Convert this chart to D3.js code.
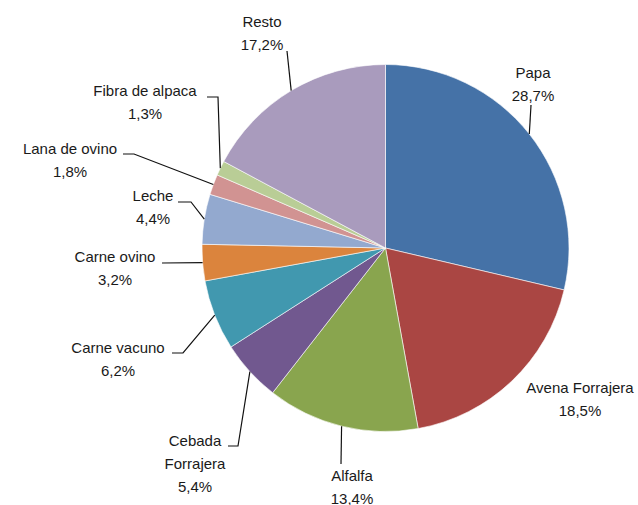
<!DOCTYPE html>
<html><head><meta charset="utf-8">
<script src="https://cdn.jsdelivr.net/npm/d3@7"></script>
<style>body{margin:0;background:#fff}svg{display:block}</style>
</head><body>
<svg id="c" width="638" height="505"></svg>
<script>
const categories = ["Papa","Avena Forrajera","Alfalfa","Cebada Forrajera","Carne vacuno","Carne ovino","Leche","Lana de ovino","Fibra de alpaca","Resto"];
const values = [28.7,18.5,13.4,5.4,6.2,3.2,4.4,1.8,1.3,17.2];
const valueLabels = ["28,7%","18,5%","13,4%","5,4%","6,2%","3,2%","4,4%","1,8%","1,3%","17,2%"];
const colors = ["#4572A7","#AA4643","#89A54E","#71588F","#4198AF","#DB843D","#93A9CF","#D19392","#B9CD96","#A99BBD"];

// label layout: text lines, center x, first line y (center), leader points before pie edge
const labelLayout = [
  {lines:["Papa"], x:533, y:72, leader:[[531,105]]},
  {lines:["Avena Forrajera"], x:580, y:387, leader:null},
  {lines:["Alfalfa"], x:352, y:475, leader:[[341,464]]},
  {lines:["Cebada","Forrajera"], x:195, y:440, leader:[[228,446],[238,446]]},
  {lines:["Carne vacuno"], x:118, y:347, leader:[[172,353],[183,353]]},
  {lines:["Carne ovino"], x:115, y:256, leader:[[162,263]]},
  {lines:["Leche"], x:153, y:195, leader:[[178,202],[191,202]]},
  {lines:["Lana de ovino"], x:70, y:148, leader:[[123,154],[134,154]]},
  {lines:["Fibra de alpaca"], x:145, y:90, leader:[[207,97],[218,97]]},
  {lines:["Resto"], x:262, y:21, leader:[[287,51]]}
];

const cx = 385.5, cy = 248, r = 183.5;
const svg = d3.select("#c");
const pie = d3.pie().sort(null).value(d => d)(values);
const arc = d3.arc().innerRadius(0).outerRadius(r);
const g = svg.append("g").attr("transform", `translate(${cx},${cy})`);
g.selectAll("path").data(pie).join("path")
  .attr("d", arc)
  .attr("fill", (d,i) => colors[i])
  .attr("stroke", "#fff").attr("stroke-width", 0.6);

const lineH = 23;
pie.forEach((d,i) => {
  const L = labelLayout[i];
  const mid = (d.startAngle + d.endAngle)/2;
  const px = cx + r*Math.sin(mid), py = cy - r*Math.cos(mid);
  if (L.leader) {
    const pts = L.leader.concat([[px,py]]);
    svg.append("path").attr("d", d3.line()(pts))
      .attr("fill","none").attr("stroke","#111").attr("stroke-width",1.2);
  }
  const all = L.lines.concat([valueLabels[i]]);
  all.forEach((t,k) => {
    svg.append("text").attr("x", L.x).attr("y", L.y + k*lineH)
      .attr("text-anchor","middle").attr("dominant-baseline","central")
      .attr("font-family","Liberation Sans, Arial, sans-serif")
      .attr("font-size", 15).attr("fill","#1a1a1a")
      .text(t);
  });
});
</script>
</body></html>
